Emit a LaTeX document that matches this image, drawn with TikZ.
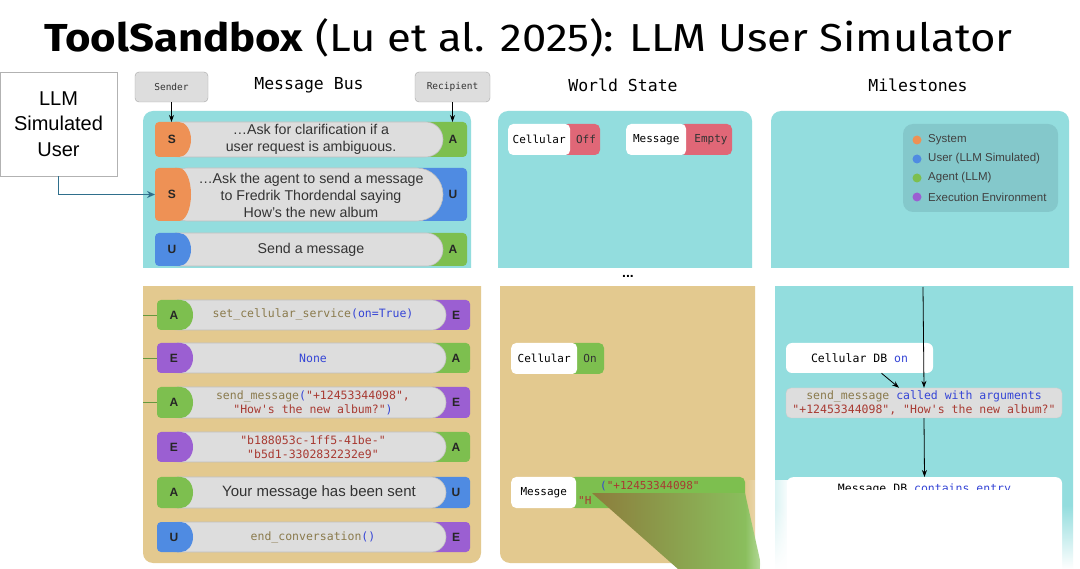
\documentclass[tikz,border=0pt]{standalone}
\usepackage{fontspec}
\setmainfont{Liberation Sans}
\setmonofont{DejaVu Sans Mono}
\newfontfamily\titlefont{Fira Sans}
\usetikzlibrary{arrows.meta,positioning,fadings}

% colours of the slide
\definecolor{panelteal}{HTML}{93DDDE}
\definecolor{paneltan}{HTML}{E3C98F}
\definecolor{sysorange}{HTML}{EE9155}
\definecolor{usrblue}{HTML}{4F8BE2}
\definecolor{agtgreen}{HTML}{7DBF4F}
\definecolor{envpurple}{HTML}{9B5FD2}
\definecolor{bargray}{HTML}{DDDDDD}
\definecolor{offred}{HTML}{E06777}
\definecolor{legendteal}{HTML}{84C8CB}
\definecolor{codeolive}{HTML}{8A7A4C}
\definecolor{codeblue}{HTML}{3545D6}
\definecolor{codered}{HTML}{A83A32}
\definecolor{arrowteal}{HTML}{2F6F8C}
\definecolor{linkgreen}{HTML}{3E7A2E}
\definecolor{smearbrown}{HTML}{8C7D3C}

\pgfdeclarelayer{behind}
\pgfsetlayers{behind,main}

\tikzset{
  letter/.style={font=\fontsize{12}{12}\selectfont\bfseries, text=black!85},
  bartext/.style={font=\fontsize{14.2}{17}\selectfont, text=black!80, align=center},
  codetext/.style={font=\ttfamily\fontsize{11.5}{14.5}\selectfont, text=codeolive, align=center},
  colhead/.style={font=\ttfamily\fontsize{16.5}{18}\selectfont},
  tagbox/.style={draw=black!35, fill=bargray, rounded corners=4, font=\ttfamily\fontsize{9.5}{10}\selectfont, minimum height=30, text=black!80},
  keybox/.style={fill=white, rounded corners=5, font=\ttfamily\fontsize{11}{12}\selectfont, minimum height=31, anchor=west, inner xsep=2},
  valtext/.style={font=\ttfamily\fontsize{11}{12}\selectfont, text=black!80},
  legdot/.style={circle, inner sep=0, minimum size=9},
  legtext/.style={font=\fontsize{11.5}{12}\selectfont, text=black!75},
  tip/.style={-{Stealth[length=7,width=5]}, black, line width=0.8},
}

% one message of the bus: sender pill, text bar, recipient pill
\newcommand{\msgrow}[7]{%
  % #1 name, #2 top, #3 bottom, #4/#5 sender colour/letter, #6/#7 recipient colour/letter
  \pgfmathsetmacro\rowh{#3-#2}
  \pgfmathsetmacro\rowr{\rowh/2-0.1}
  \pgfmathsetmacro\rowm{(#2+#3)/2}
  \fill[#6, rounded corners=4] (\rowR-\rowr-27,#2) rectangle (\rowR,#3);
  \fill[bargray, draw=black!25, line width=0.6, rounded corners=\rowr] (\rowL+6,#2) rectangle (\rowR-24,#3);
  \fill[#4, rounded corners=4] (\rowL,#2) rectangle (\rowL+26,#3);
  \fill[#4] (\rowL+20,#2) -- (\rowL+24,#2) arc[start angle=-90, end angle=90, x radius=12, y radius=\rowh/2] -- (\rowL+20,#3) -- cycle;
  \node[letter] (#1-s) at (\rowL+17,\rowm) {#5};
  \node[letter] (#1-r) at (\rowR-14,\rowm) {#7};
  \coordinate (#1-w) at (\rowL,\rowm);
  \coordinate (#1-e) at (\rowR,\rowm);
  \coordinate (#1-n) at (\rowL+17,#2);
  \coordinate (#1-ne) at (\rowR-14,#2);
}

\begin{document}
\begin{tikzpicture}[x=1pt,y=-1pt]
    \useasboundingbox (0,0) rectangle (1080,569);
    \fill[white] (0,0) rectangle (1080,569);

    % 1. title
    \node[anchor=base west, inner sep=0] (title) at (44,52)
        {\scalebox{1.12}[1]{\titlefont\fontsize{39}{39}\selectfont\textbf{ToolSandbox} (Lu et al. 2025): LLM User Simulator}};

    % 2. column headings
    \node[colhead] (busHead) at (309,85) {Message Bus};
    \node[colhead] (worldHead) at (623,85) {World State};
    \node[colhead] (mileHead) at (918,85) {Milestones};
    \node[tagbox, minimum width=73] (sender) at (171.5,87) {Sender};
    \node[tagbox, minimum width=75] (recipient) at (452.5,87) {Recipient};

    % 3. upper panels (cut at the bottom)
    \begin{scope}
        \clip (0,100) rectangle (1080,268);
        \fill[panelteal, rounded corners=10] (143,111) rectangle (471,300);
        \fill[panelteal, rounded corners=10] (498,111) rectangle (752,300);
        \fill[panelteal, rounded corners=10] (771,111) rectangle (1069,300);
    \end{scope}

    % 4. lower panels (cut at the top)
    \begin{scope}
        \clip (0,287) rectangle (1080,569);
        \fill[paneltan, rounded corners=10] (143,270) rectangle (481,563);
        \fill[paneltan, rounded corners=10] (500,270) rectangle (755,563);
        \fill[panelteal, rounded corners=10] (775,270) rectangle (1073,620);
    \end{scope}
    \node[font=\bfseries\fontsize{14}{14}\selectfont] (more) at (628,276) {...};

    % 5. user simulator box
    \node[draw=black!30, fill=white, minimum width=117, minimum height=104, align=center,
          font=\fontsize{20}{25.5}\selectfont] (llm) at (58.5,124) {LLM\\Simulated\\User};

    % 6. upper message bus
    \def\rowL{155}\def\rowR{467}
    \msgrow{t1}{122}{157}{sysorange}{S}{agtgreen}{A}
    \node[bartext] (t1-txt) at (311,139.5) {…Ask for clarification if a\\user request is ambiguous.};
    \msgrow{t2}{168}{221}{sysorange}{S}{usrblue}{U}
    \node[bartext] (t2-txt) at (311,195) {…Ask the agent to send a message\\to Fredrik Thordendal saying\\How’s the new album};
    \msgrow{t3}{233}{266}{usrblue}{U}{agtgreen}{A}
    \node[bartext] (t3-txt) at (311,250) {Send a message};

    \draw[tip] (sender.south) -- (sender.south |- t1-n);
    \draw[tip] (recipient.south) -- (recipient.south |- t1-ne);
    \draw[arrowteal, line width=1.2, -{Stealth[length=8,width=7]}] (llm.south) |- (t2-w);

    % 7. lower message bus
    \def\rowL{157}\def\rowR{470}
    \msgrow{b1}{300}{330}{agtgreen}{A}{envpurple}{E}
    \node[codetext] (b1-txt) at (313,314) {set\_cellular\_service\textcolor{codeblue}{(on=True)}};
    \msgrow{b2}{343}{373}{envpurple}{E}{agtgreen}{A}
    \node[codetext, text=codeblue] (b2-txt) at (313,358) {None};
    \msgrow{b3}{387}{418}{agtgreen}{A}{envpurple}{E}
    \node[codetext] (b3-txt) at (313,403) {send\_message\textcolor{codeblue}{(}\textcolor{codered}{"+12453344098",}\\
        \textcolor{codered}{"How's the new album?"}\textcolor{codeblue}{)}};
    \msgrow{b4}{432}{462}{envpurple}{E}{agtgreen}{A}
    \node[codetext, text=codered] (b4-txt) at (313,447) {"b188053c-1ff5-41be-"\\"b5d1-3302832232e9"};
    \msgrow{b5}{477}{508}{agtgreen}{A}{usrblue}{U}
    \node[bartext, font=\fontsize{15}{17}\selectfont] (b5-txt) at (319,492.5) {Your message has been sent};
    \msgrow{b6}{522}{552}{usrblue}{U}{envpurple}{E}
    \node[codetext] (b6-txt) at (313,537) {end\_conversation\textcolor{codeblue}{()}};

    \coordinate (tick1) at (143,315);
    \coordinate (tick2) at (143,358);
    \coordinate (tick3) at (143,402.5);
    \draw[agtgreen!80!black, line width=0.7] (tick1) -- (b1-w);
    \draw[agtgreen!80!black, line width=0.7] (tick2) -- (b2-w);
    \draw[agtgreen!80!black, line width=0.7] (tick3) -- (b3-w);

    % 8. world state, before
    \fill[offred, rounded corners=5] (563,124) rectangle (600,155);
    \node[keybox, minimum width=62] (cellOff) at (508,139.5) {Cellular};
    \node[valtext] (cellOff-v) at (586,139.5) {Off};
    \fill[offred, rounded corners=5] (680,124) rectangle (732,155);
    \node[keybox, minimum width=60] (msgEmpty) at (626,139.5) {Message};
    \node[valtext] (msgEmpty-v) at (711,139.5) {Empty};

    % 9. world state, after
    \fill[agtgreen, rounded corners=5] (570,343) rectangle (604,374);
    \node[keybox, minimum width=66] (cellOn) at (511,358.5) {Cellular};
    \node[valtext] (cellOn-v) at (590,358.5) {On};
    \fill[agtgreen, rounded corners=5] (570,477) rectangle (745,508);
    \node[keybox, minimum width=65] (msgEntry) at (511,492.5) {Message};
    \node[valtext, text=codered, anchor=west, inner sep=0] (msgEntry-v1) at (600,486)
        {\textcolor{codeblue}{(}"+12453344098"};
    \node[valtext, text=codered, anchor=west, inner sep=0] (msgEntry-v2) at (578,500) {"H};

    \begin{pgfonlayer}{behind}
        \draw[linkgreen, line width=1] (b2-e) -- (cellOn.west);
    \end{pgfonlayer}

    % 10. legend
    \fill[legendteal, rounded corners=10] (903,124) rectangle (1058,212);
    \node[legdot, fill=sysorange] (dotSys) at (917,140) {};
    \node[legtext, right=3 of dotSys] {System};
    \node[legdot, fill=usrblue] (dotUsr) at (917,159) {};
    \node[legtext, right=3 of dotUsr] {User (LLM Simulated)};
    \node[legdot, fill=agtgreen] (dotAgt) at (917,178) {};
    \node[legtext, right=3 of dotAgt] {Agent (LLM)};
    \node[legdot, fill=envpurple] (dotEnv) at (917,197) {};
    \node[legtext, right=3 of dotEnv] {Execution Environment};

    % 11. milestones
    \coordinate (mileTop) at (923,287);
    \node[fill=white, rounded corners=6, minimum width=147, minimum height=30,
          font=\ttfamily\fontsize{11.5}{12}\selectfont] (cellDB) at (859.5,358)
          {Cellular DB \textcolor{codeblue}{on}};
    \node[fill=bargray, draw=black!20, rounded corners=5, minimum width=276, minimum height=30,
          inner sep=1, align=center, font=\ttfamily\fontsize{11.5}{14}\selectfont] (sendCall) at (924,403)
          {\textcolor{codeolive}{send\_message} \textcolor{codeblue}{called with arguments}\\
           \textcolor{codered}{"+12453344098", "How's the new album?"}};
    \node[fill=white, rounded corners=6, minimum width=275, minimum height=110, anchor=north] (msgDB) at (924.5,477) {};
    \begin{scope}
        \clip (787,470) rectangle (1062,489);
        \node[font=\ttfamily\fontsize{11.5}{12}\selectfont] (msgDB-t) at (924.5,489)
            {Message DB \textcolor{codeblue}{contains entry}};
    \end{scope}
    \draw[tip] (mileTop) -- (sendCall.north);
    \draw[tip] ([xshift=22]cellDB.south) -- ([xshift=-25]sendCall.north);
    \draw[tip] (sendCall.south) -- (msgDB.north);

    % 12. smeared corner at the bottom
    \shade[left color=smearbrown, right color=agtgreen!90!white] (592,493) -- (745,493) -- (762,569) -- (678,569) -- cycle;
    \fill[white, path fading=west] (745,480) rectangle (790,569);
    \fill[white, path fading=north] (760,505) rectangle (1080,569);
\end{tikzpicture}
\end{document}
